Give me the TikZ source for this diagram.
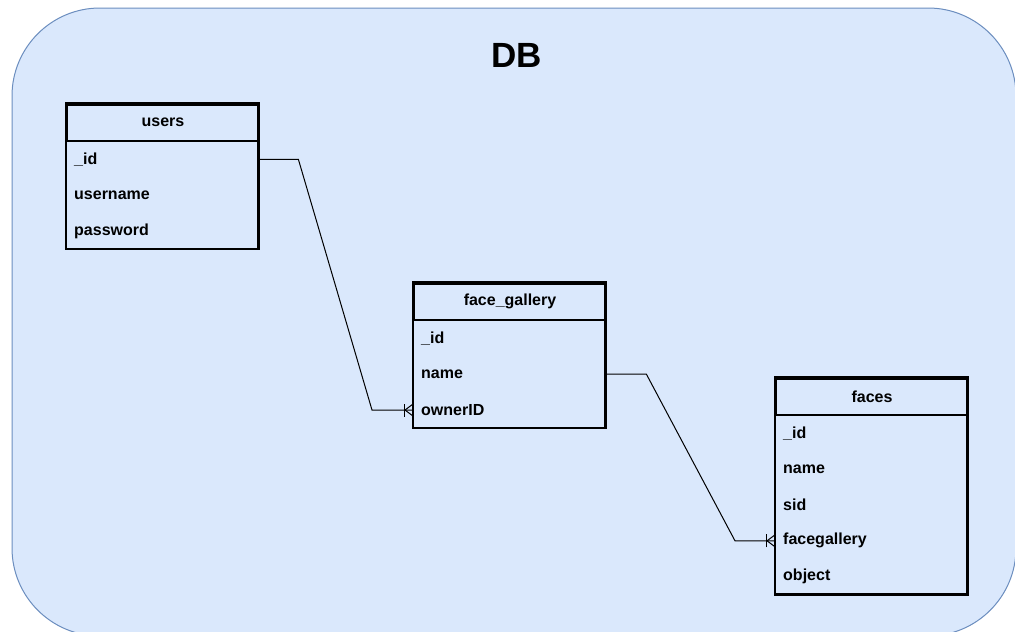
\documentclass[tikz,border=0pt]{standalone}
\usepackage{fontspec}
\setmainfont{Liberation Sans}
\usetikzlibrary{calc}

\definecolor{dbfill}{HTML}{DAE8FC}
\definecolor{dbline}{HTML}{6C8EBF}

\tikzset{
  container/.style={fill=dbfill, draw=dbline, line width=1pt, rounded corners=88pt},
  hdr/.style={draw=black, line width=2pt, anchor=north west, minimum width=192pt,
    minimum height=36pt, inner sep=0pt, font=\bfseries\fontsize{16}{18}\selectfont},
  fld/.style={anchor=north west, text width=176pt, inner xsep=8pt, inner ysep=0pt,
    minimum height=35.4pt, align=left, font=\bfseries\fontsize{16}{18}\selectfont},
  tblbox/.style={draw=black, line width=2.2pt},
  conn/.style={draw=black, line width=1pt},
}

% one-or-many end: bar plus crow's foot against the west side of a field
\newcommand{\crowsfoot}[1]{%
  \draw[conn] ([xshift=-9pt,yshift=-6.5pt]#1.west) -- ([xshift=-9pt,yshift=6.5pt]#1.west);
  \draw[conn] ([yshift=6pt]#1.west) -- ([xshift=-8pt]#1.west) -- ([yshift=-6pt]#1.west);}

\begin{document}
\begin{tikzpicture}[x=1pt, y=-1pt]
  \useasboundingbox (0,0) rectangle (1015,632);
  \begin{scope}
    \clip (0,0) rectangle (1015,632);
    \path[container] (12,8) rectangle (1016,636);
  \end{scope}

  \node[font=\bfseries\fontsize{35}{40}\selectfont] (title) at (516.5,55) {DB};

  % users
  \node[hdr] (users) at (66,103.5) {users};
  \node[fld] (users-id) at (users.south west) {\_id};
  \node[fld] (users-name) at (users-id.south west) {username};
  \node[fld] (users-pw) at (users-name.south west) {password};
  \draw[tblbox] (users.north west) rectangle (users-pw.south east);

  % face_gallery
  \node[hdr] (fg) at (413,282.5) {face\_gallery};
  \node[fld] (fg-id) at (fg.south west) {\_id};
  \node[fld] (fg-name) at (fg-id.south west) {name};
  \node[fld] (fg-owner) at (fg-name.south west) {ownerID};
  \draw[tblbox] (fg.north west) rectangle (fg-owner.south east);

  % faces
  \node[hdr] (faces) at (775,377.5) {faces};
  \node[fld] (faces-id) at (faces.south west) {\_id};
  \node[fld] (faces-name) at (faces-id.south west) {name};
  \node[fld] (faces-sid) at (faces-name.south west) {sid};
  \node[fld] (faces-fg) at (faces-sid.south west) {facegallery};
  \node[fld] (faces-obj) at (faces-fg.south west) {object};
  \draw[tblbox] (faces.north west) rectangle (faces-obj.south east);

  % relations
  \draw[conn] (users-id.east) -- ++(40,0) -- ($(fg-owner.west)+(-41,0)$) -- (fg-owner.west);
  \crowsfoot{fg-owner}
  \draw[conn] (fg-name.east) -- ++(41,0) -- ($(faces-fg.west)+(-40,0)$) -- (faces-fg.west);
  \crowsfoot{faces-fg}
\end{tikzpicture}
\end{document}
